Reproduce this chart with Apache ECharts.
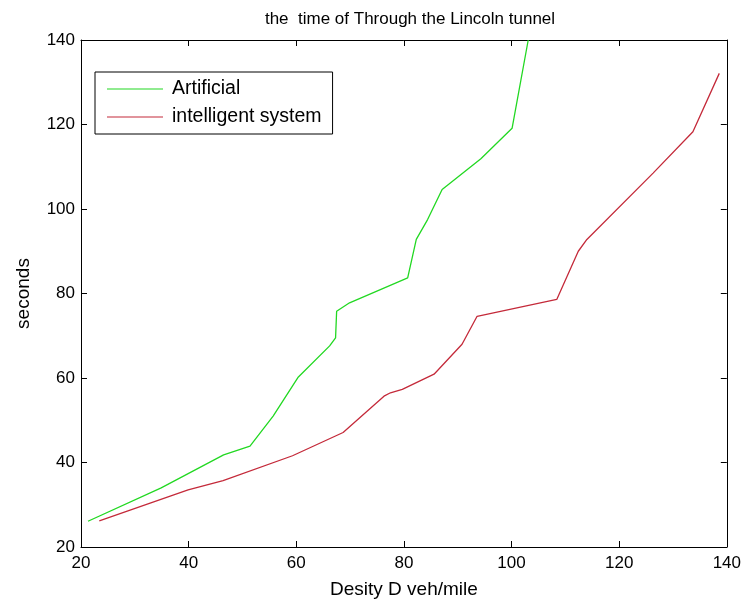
<!DOCTYPE html>
<html>
<head>
<meta charset="utf-8">
<script src="https://cdn.jsdelivr.net/npm/echarts@6/dist/echarts.min.js"></script>
<style>
html,body{margin:0;padding:0;background:#fff;}
#main{width:744px;height:604px;}
</style>
</head>
<body>
<div id="main"></div>
<script>
var titleText = 'the  time of Through the Lincoln tunnel';
var xName = 'Desity D veh/mile';
var yName = 'seconds';
var seriesNames = ['Artificial', 'intelligent system'];
var artificialX = [21.3, 34.9, 46.5, 51.4, 55.7, 60.3, 66.2, 67.3, 67.5, 69.9, 80.7, 82.3, 84.4, 87.1, 94.3, 100.1, 103.1];
var artificialY = [26.1, 34.0, 41.8, 43.9, 51.0, 60.1, 67.6, 69.5, 75.8, 77.8, 83.7, 92.8, 97.5, 104.6, 111.9, 119.1, 140.0];
var intelligentX = [23.4, 39.9, 46.4, 59.3, 68.7, 76.3, 77.5, 79.7, 85.6, 90.8, 93.6, 108.4, 112.4, 114.0, 126.3, 133.7, 138.6];
var intelligentY = [26.2, 33.5, 35.7, 41.6, 47.1, 55.7, 56.5, 57.3, 60.9, 68.0, 74.6, 78.6, 90.0, 92.8, 108.5, 118.3, 132.1];
var xMin = 20, xMax = 140, xStep = 20;
var yMin = 20, yMax = 140, yStep = 20;

function pairs(xs, ys){ return xs.map(function(x,i){ return [x, ys[i]]; }); }

var FONT = "'Liberation Sans', Arial, sans-serif";
var chart = echarts.init(document.getElementById('main'), null, {renderer:'canvas'});
var axisLineStyle = {color:'#000', width:1};
chart.setOption({
  animation:false,
  backgroundColor:'#fff',
  title:{text:titleText, left:405, top:6, textAlign:'center',
    textStyle:{fontFamily:FONT, fontSize:17, fontWeight:'normal', color:'#000'}},
  grid:{left:81, right:16, top:40, bottom:56, containLabel:false},
  legend:{
    show:true, orient:'vertical', left:95, top:72,
    padding:[7,11,7,12], itemGap:8, itemWidth:56, itemHeight:14,
    borderColor:'#000', borderWidth:1, backgroundColor:'#fff',
    textStyle:{fontFamily:FONT, fontSize:19.5, color:'#000', padding:[0,0,0,4]},
    data:seriesNames.map(function(n){return {name:n, icon:'path://M0,6.5 L56,6.5 L56,7.7 L0,7.7 Z'};})
  },
  xAxis:[{
    type:'value', min:xMin, max:xMax, interval:xStep, position:'bottom',
    name:xName, nameLocation:'middle', nameGap:33,
    nameTextStyle:{fontFamily:FONT, fontSize:19, color:'#000'},
    axisLine:{show:true, lineStyle:axisLineStyle, onZero:false},
    axisTick:{show:true, inside:true, length:6, lineStyle:axisLineStyle},
    axisLabel:{fontFamily:FONT, fontSize:17, color:'#000', margin:8},
    splitLine:{show:false}
  },{
    type:'value', min:xMin, max:xMax, interval:xStep, position:'top',
    axisLine:{show:true, lineStyle:axisLineStyle, onZero:false},
    axisTick:{show:true, inside:true, length:6, lineStyle:axisLineStyle},
    axisLabel:{show:false}, splitLine:{show:false}
  }],
  yAxis:[{
    type:'value', min:yMin, max:yMax, interval:yStep, position:'left',
    name:yName, nameLocation:'middle', nameGap:48,
    nameTextStyle:{fontFamily:FONT, fontSize:19, color:'#000'},
    axisLine:{show:true, lineStyle:axisLineStyle, onZero:false},
    axisTick:{show:true, inside:true, length:6, lineStyle:axisLineStyle},
    axisLabel:{fontFamily:FONT, fontSize:17, color:'#000', margin:6},
    splitLine:{show:false}
  },{
    type:'value', min:yMin, max:yMax, interval:yStep, position:'right',
    axisLine:{show:true, lineStyle:axisLineStyle, onZero:false},
    axisTick:{show:true, inside:true, length:6, lineStyle:axisLineStyle},
    axisLabel:{show:false}, splitLine:{show:false}
  }],
  series:[{
    name:seriesNames[0], type:'line', data:pairs(artificialX, artificialY),
    showSymbol:false, symbol:'none', clip:true,
    lineStyle:{color:'#22d822', width:1.3}, itemStyle:{color:'#22d822'}
  },{
    name:seriesNames[1], type:'line', data:pairs(intelligentX, intelligentY),
    showSymbol:false, symbol:'none', clip:true,
    lineStyle:{color:'#c42a3a', width:1.3}, itemStyle:{color:'#c42a3a'}
  }]
});
</script>
</body>
</html>
